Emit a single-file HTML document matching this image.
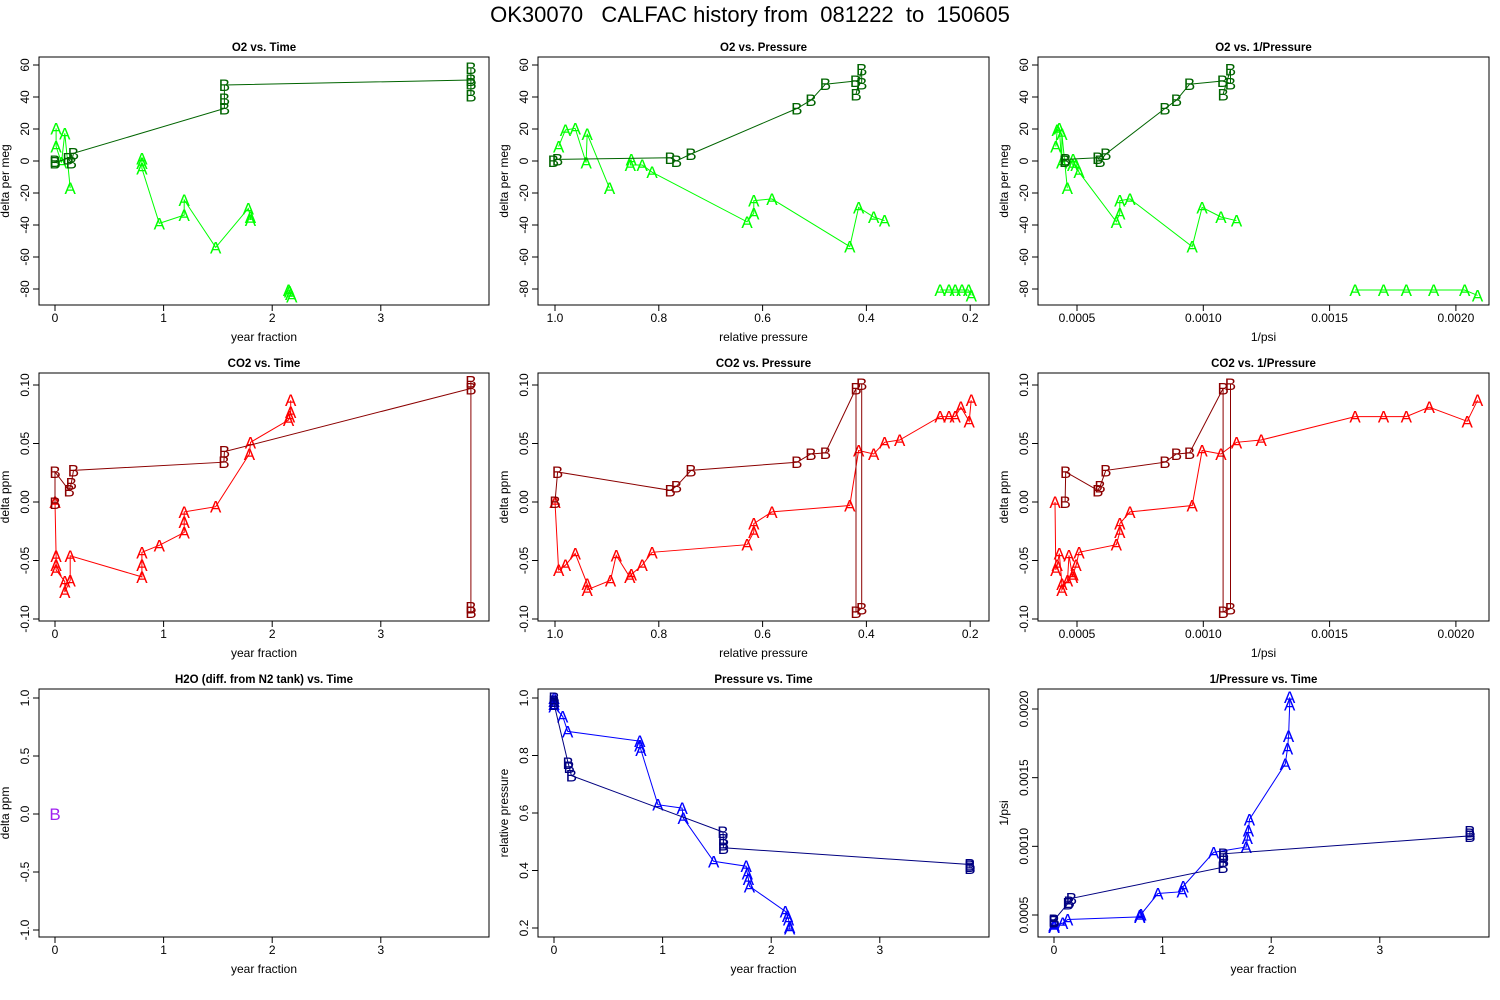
<!DOCTYPE html>
<html><head><meta charset="utf-8"><style>
body{margin:0;background:#fff}
svg{display:block;font-family:"Liberation Sans",sans-serif}
</style></head><body>
<svg id="chart" width="1500" height="1000" viewBox="0 0 1500 1000" xmlns="http://www.w3.org/2000/svg">
<rect width="1500" height="1000" fill="#fff"/>
<text x="750" y="22" font-size="22" text-anchor="middle" style="white-space:pre" xml:space="preserve">OK30070   CALFAC history from  081222  to  150605</text>
</svg>
<script>
// ---- data: O2 vs Time ----
const o2TimeAx=[0.01,0.01,0.06,0.09,0.14,null,0.8,0.8,0.8,0.96,1.19,1.19,1.48,1.78,1.8,1.8,null,2.15,2.16,2.17,2.18];
const o2TimeAy=[20.4,9,-1,17.3,-17,null,1.7,-1.4,-4.6,-39,-33.8,-24.4,-54,-29.6,-35,-36.9,null,-80.6,-81.5,-83,-84.8];
const o2TimeBx=[0,0,0.12,0.15,0.17,1.56,1.56,1.56,3.83,3.83,3.83,3.83];
const o2TimeBy=[0,-1,1.7,-1,4.8,32.8,38.7,47.5,50.6,48.5,58,41];
// ---- O2 vs Pressure ----
const o2PresAx=[0.993,0.98,0.961,0.94,0.938,0.895,null,0.853,0.855,0.832,0.813,0.63,0.617,0.617,0.582,0.432,0.415,0.386,0.365,null,0.258,0.241,0.229,0.216,0.203,0.198];
const o2PresAy=[9,19.4,20.4,-1,17,-17,null,1,-2.5,-2.5,-7,-38,-32.7,-24.8,-23.7,-53.5,-29,-35,-37.3,null,-80.6,-80.6,-80.6,-80.6,-80.6,-84];
const o2PresBx=[1.003,0.995,0.778,0.766,0.738,0.534,0.507,0.479,0.421,0.409,0.409,0.42];
const o2PresBy=[0,1,2,0,4.4,32.8,38,48,50,48.5,57.3,41.7];
// ---- CO2 vs Time ----
const co2TimeAx=[0,0.01,0.01,0.01,0.09,0.09,0.14,0.14,0.8,0.8,0.8,0.96,1.19,1.19,1.19,1.48,1.79,1.8,2.15,2.16,2.17,2.17];
const co2TimeAy=[0,-0.046,-0.054,-0.058,-0.068,-0.077,-0.067,-0.046,-0.064,-0.054,-0.043,-0.037,-0.026,-0.017,-0.0085,-0.004,0.041,0.051,0.070,0.073,0.077,0.087];
const co2TimeBx=[0,0,0.13,0.15,0.17,1.555,1.56,3.83,3.83,3.83,3.83];
const co2TimeBy=[-0.001,0.0256,0.010,0.016,0.027,0.034,0.043,0.097,0.103,-0.09,-0.094];
// ---- CO2 vs Pressure ----
const co2PresAx=[1.0,0.993,0.98,0.961,0.938,0.938,0.893,0.882,0.856,0.853,0.832,0.813,0.63,0.617,0.617,0.582,0.432,0.415,0.386,0.365,0.336,0.258,0.241,0.229,0.218,0.202,0.198];
const co2PresAy=[0,-0.058,-0.054,-0.044,-0.070,-0.075,-0.067,-0.0456,-0.064,-0.062,-0.054,-0.043,-0.0365,-0.0256,-0.0185,-0.0085,-0.003,0.044,0.041,0.051,0.053,0.073,0.073,0.073,0.081,0.069,0.087];
const co2PresBx=[1.0,0.995,0.778,0.766,0.738,0.534,0.507,0.479,0.42,0.42,0.409,0.409];
const co2PresBy=[0,0.0256,0.010,0.0134,0.027,0.034,0.041,0.042,0.097,-0.094,-0.091,0.101];
// ---- H2O vs Time ----
const h2oTimeBx=[0];
const h2oTimeBy=[0];
// ---- Pressure vs Time ----
const presTimeAx=[0,0,0,0,0.08,0.126,0.79,0.79,0.80,0.957,1.18,1.19,1.47,1.77,1.78,1.79,1.8,2.13,2.15,2.16,2.17,2.17];
const presTimeAy=[1.0,0.99,0.98,0.97,0.936,0.884,0.85,0.835,0.82,0.629,0.617,0.583,0.432,0.415,0.39,0.37,0.345,0.258,0.241,0.229,0.203,0.198];
const presTimeBx=[0,0,0,0.13,0.14,0.16,1.556,1.56,1.56,1.56,3.83,3.83,3.83];
const presTimeBy=[1.0,0.99,0.98,0.774,0.76,0.73,0.534,0.507,0.49,0.479,0.421,0.415,0.409];
// 1/psi scale constants (per unit) for A and B
const invK=[0.000413,0.000453];

const svg=document.getElementById('chart');
const NS='http://www.w3.org/2000/svg';
function el(tag,attrs,parent){const e=document.createElementNS(NS,tag);for(const k in attrs)e.setAttribute(k,attrs[k]);(parent||svg).appendChild(e);return e;}
function lin(d0,d1,r0,r1){return v=>r0+(v-d0)*(r1-r0)/(d1-d0);}
const cols=[[39,489],[538,989],[1038,1489]];
const rows=[[57,305],[373,621],[689,937]];

function panel(slug,r,c,title,xlab,ylab,xs,ys,xt,xtl,yt,ytl,series){
  const g=el('g',{});
  
  
  const [x0,x1]=cols[c],[y0,y1]=rows[r];
  const t=el('text',{x:(x0+x1)/2,y:y0-6,'font-size':11.5,'font-weight':'bold','text-anchor':'middle'},g);
  t.textContent=title;
  const xl=el('text',{x:(x0+x1)/2,y:y1+36,'font-size':12,'text-anchor':'middle'},g);
  xl.textContent=xlab;
  const yl=el('text',{x:0,y:0,'font-size':12,'text-anchor':'middle',transform:`translate(${x0-30},${(y0+y1)/2}) rotate(-90)`},g);
  yl.textContent=ylab;
  xt.forEach((v,i)=>{const X=xs(v);
    const tk=el('line',{x1:X,x2:X,y1:y1,y2:y1+6,stroke:'#000'},g);
    
    const tl=el('text',{x:X,y:y1+17,'font-size':12,'text-anchor':'middle'},g);
    tl.textContent=xtl[i];});
  yt.forEach((v,i)=>{const Y=ys(v);
    const tk=el('line',{x1:x0-6,x2:x0,y1:Y,y2:Y,stroke:'#000'},g);
    
    const tl=el('text',{x:0,y:0,'font-size':12,'text-anchor':'middle',transform:`translate(${x0-10},${Y}) rotate(-90)`},g);
    tl.textContent=ytl[i];});
  series.forEach(s=>{
    let d='',pen=false;
    for(let i=0;i<s.x.length;i++){
      if(s.x[i]===null||s.y[i]===null){pen=false;continue;}
      d+=(pen?'L':'M')+xs(s.x[i]).toFixed(1)+' '+ys(s.y[i]).toFixed(1);pen=true;}
    const p=el('path',{d:d,fill:'none',stroke:s.color,'stroke-width':1},g);
    
    for(let i=0;i<s.x.length;i++){
      if(s.x[i]===null||s.y[i]===null)continue;
      const m=el('text',{x:xs(s.x[i]),y:ys(s.y[i])+6,'font-size':17,'text-anchor':'middle',fill:s.color},g);
      m.textContent=s.label;}
  });
  const b=el('rect',{x:x0,y:y0,width:x1-x0,height:y1-y0,fill:'none',stroke:'#000','stroke-width':1},g);
  
}
const inv=(arr,k)=>arr.map(v=>v===null?null:k/v);
const tX=c=>lin(0,1,cols[c][0]+16,cols[c][0]+16+108.6);
const pX=c=>lin(1,0,cols[c][0]+17,cols[c][0]+17+519);
const iX=c=>lin(0.0005,0.001,cols[c][0]+39,cols[c][0]+39+126.3);
const o2Y=lin(0,60,161,65), co2Y=lin(0,0.1,502,385);
const timeT=[0,1,2,3],timeL=['0','1','2','3'];
const presT=[1,0.8,0.6,0.4,0.2],presL=['1.0','0.8','0.6','0.4','0.2'];
const invT=[0.0005,0.001,0.0015,0.002],invL=['0.0005','0.0010','0.0015','0.0020'];
const o2T=[60,40,20,0,-20,-40,-60,-80],o2L=['60','40','20','0','-20','-40','-60','-80'];
const co2T=[0.1,0.05,0,-0.05,-0.1],co2L=['0.10','0.05','0.00','-0.05','-0.10'];
const gA='#00ff00',gB='#006400',rA='#ff0000',rB='#8b0000',bA='#0000ff',bB='#000080';

panel('o2-vs-time',0,0,'O2 vs. Time','year fraction','delta per meg',tX(0),o2Y,timeT,timeL,o2T,o2L,
 [{x:o2TimeAx,y:o2TimeAy,color:gA,label:'A'},{x:o2TimeBx,y:o2TimeBy,color:gB,label:'B'}]);
panel('o2-vs-pressure',0,1,'O2 vs. Pressure','relative pressure','delta per meg',pX(1),o2Y,presT,presL,o2T,o2L,
 [{x:o2PresAx,y:o2PresAy,color:gA,label:'A'},{x:o2PresBx,y:o2PresBy,color:gB,label:'B'}]);
panel('o2-vs-inv-pressure',0,2,'O2 vs. 1/Pressure','1/psi','delta per meg',iX(2),o2Y,invT,invL,o2T,o2L,
 [{x:inv(o2PresAx,invK[0]),y:o2PresAy,color:gA,label:'A'},{x:inv(o2PresBx,invK[1]),y:o2PresBy,color:gB,label:'B'}]);
panel('co2-vs-time',1,0,'CO2 vs. Time','year fraction','delta ppm',tX(0),co2Y,timeT,timeL,co2T,co2L,
 [{x:co2TimeAx,y:co2TimeAy,color:rA,label:'A'},{x:co2TimeBx,y:co2TimeBy,color:rB,label:'B'}]);
panel('co2-vs-pressure',1,1,'CO2 vs. Pressure','relative pressure','delta ppm',pX(1),co2Y,presT,presL,co2T,co2L,
 [{x:co2PresAx,y:co2PresAy,color:rA,label:'A'},{x:co2PresBx,y:co2PresBy,color:rB,label:'B'}]);
panel('co2-vs-inv-pressure',1,2,'CO2 vs. 1/Pressure','1/psi','delta ppm',iX(2),co2Y,invT,invL,co2T,co2L,
 [{x:inv(co2PresAx,invK[0]),y:co2PresAy,color:rA,label:'A'},{x:inv(co2PresBx,invK[1]),y:co2PresBy,color:rB,label:'B'}]);
panel('h2o-vs-time',2,0,'H2O (diff. from N2 tank) vs. Time','year fraction','delta ppm',tX(0),lin(0,1,814,698),timeT,timeL,
 [1,0.5,0,-0.5,-1],['1.0','0.5','0.0','-0.5','-1.0'],[{x:h2oTimeBx,y:h2oTimeBy,color:'#a020f0',label:'B'}]);
panel('pressure-vs-time',2,1,'Pressure vs. Time','year fraction','relative pressure',tX(1),lin(1,0.2,698,928),timeT,timeL,
 [1,0.8,0.6,0.4,0.2],['1.0','0.8','0.6','0.4','0.2'],
 [{x:presTimeAx,y:presTimeAy,color:bA,label:'A'},{x:presTimeBx,y:presTimeBy,color:bB,label:'B'}]);
panel('inv-pressure-vs-time',2,2,'1/Pressure vs. Time','year fraction','1/psi',tX(2),lin(0.002,0.0005,709,915),timeT,timeL,
 [0.002,0.0015,0.001,0.0005],['0.0020','0.0015','0.0010','0.0005'],
 [{x:presTimeAx,y:inv(presTimeAy,invK[0]),color:bA,label:'A'},{x:presTimeBx,y:inv(presTimeBy,invK[1]),color:bB,label:'B'}]);
</script>
</body></html>
